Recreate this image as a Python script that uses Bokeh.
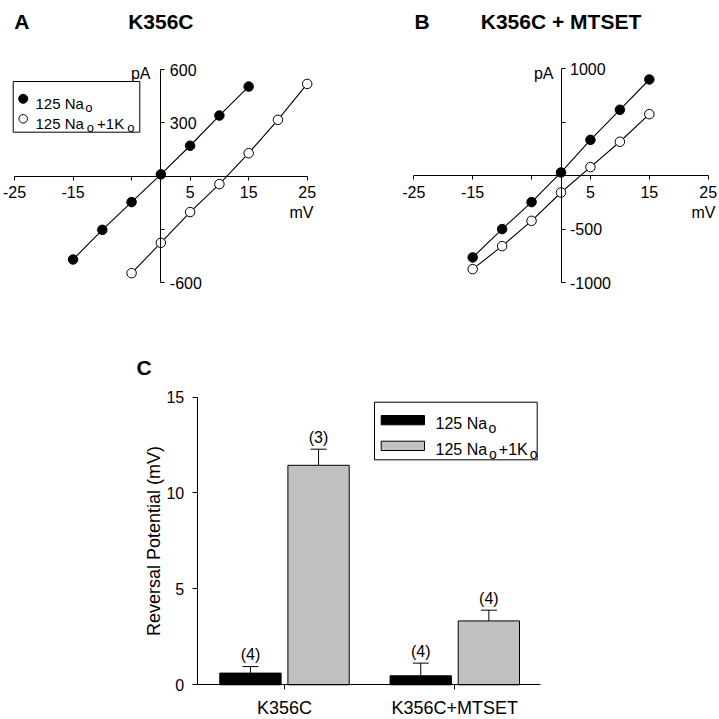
from bokeh.plotting import figure
from bokeh.models import Range1d, LinearAxis, FixedTicker, Whisker, TeeHead, ColumnDataSource
from bokeh.layouts import column, row
from bokeh.embed import file_html
from bokeh.resources import INLINE
from bokeh.core.properties import value

# ---------------- data ----------------
# Panel A : K356C I-V
volt_na_A = [-15, -10, -5, 0, 5, 10, 15]
curr_na_A = [-469, -302, -146, 10, 171, 341, 504]
volt_k_A = [-5, 0, 5, 10, 15, 20, 25]
curr_k_A = [-546, -375, -202, -45, 129, 317, 519]

# Panel B : K356C + MTSET I-V
volt_B = [-15, -10, -5, 0, 5, 10, 15]
curr_na_B = [-763, -498, -246, 31, 336, 617, 900]
curr_k_B = [-872, -657, -421, -156, 81, 318, 576]

x_ticks_iv = [-25, -15, -5, 5, 15, 25]
x_tick_labels_iv = ["-25", "-15", "", "5", "15", "25"]
y_ticks_A = [-600, -300, 300, 600]
y_tick_labels_A = ["-600", "", "300", "600"]
y_ticks_B = [-1000, -500, 500, 1000]
y_tick_labels_B = ["-1000", "-500", "", "1000"]

# Panel C : reversal potentials
categories = ["K356C", "K356C+MTSET"]
erev_na = [0.61, 0.47]
erev_na_err = [0.34, 0.66]
erev_nak = [11.44, 3.33]
erev_nak_err = [0.84, 0.56]
n_na = ["(4)", "(4)"]
n_nak = ["(3)", "(4)"]
y_ticks_C = [0, 5, 10, 15]

FONT = "Liberation Sans"
ARIAL_W = {'0': .556, '1': .556, '2': .556, '3': .556, '4': .556, '5': .556, '6': .556,
           ' ': .278, 'N': .722, 'a': .556, 'o': .556, '+': .584, 'K': .667}

ROW1_H = 310
PAGE_W = 718
PAGE_H = 718


def make_map(left, top, width, height, xv, xp, yv, yp):
    kx = (xv[1] - xv[0]) / (xp[1] - xp[0])
    ky = (yv[1] - yv[0]) / (yp[1] - yp[0])

    def fx(px):
        return xv[0] + (px - xp[0]) * kx

    def fy(py):
        return yv[0] + (py - yp[0]) * ky
    return fx, fy, Range1d(fx(left), fx(left + width)), Range1d(fy(top + height), fy(top))


def base_fig(w, h, xr, yr):
    p = figure(width=w, height=h, x_range=xr, y_range=yr, x_axis_type=None, y_axis_type=None,
               toolbar_location=None, output_backend="svg", min_border=0, title=None,
               outline_line_color=None, background_fill_color="white", border_fill_color="white")
    return p


def style_axis(ax, size="16px"):
    ax.axis_line_color = "black"
    ax.axis_line_width = 1
    ax.major_tick_line_color = "black"
    ax.major_tick_line_width = 1
    ax.minor_tick_in = 0
    ax.minor_tick_out = 0
    ax.major_tick_in = 0
    ax.major_label_text_font = FONT
    ax.major_label_text_font_size = size
    ax.major_label_text_color = "black"


def txt(p, x, y, s, size, align="center", baseline="alphabetic", bold=False, **kw):
    p.text(x=[x], y=[y], text=[s], text_font=value(FONT), text_font_size=size,
           text_align=align, text_baseline=baseline, text_color="black",
           text_font_style="bold" if bold else "normal", **kw)


def rich(p, fx, fy, x_px, base_px, pieces, gap=1.5):
    cur = x_px
    for s, size, dy in pieces:
        txt(p, fx(cur), fy(base_px + dy), s, f"{size}px", align="left")
        cur += sum(ARIAL_W.get(c, .556) for c in s) * size + gap


def iv_panel(left, width, xmap, ymap, y_ticks, y_labels, volt1, curr1, volt2, curr2,
             letter, letter_px, title, pa_px, mv_px, legend=False):
    fx, fy, xr, yr = make_map(left, 0, width, ROW1_H, *xmap, *ymap)
    p = base_fig(width, ROW1_H, xr, yr)

    xa = LinearAxis(fixed_location=0, bounds=(min(x_ticks_iv), max(x_ticks_iv)),
                    ticker=FixedTicker(ticks=x_ticks_iv, minor_ticks=[]),
                    major_label_overrides=dict(zip(x_ticks_iv, x_tick_labels_iv)))
    style_axis(xa)
    xa.major_tick_out = 4
    xa.major_label_standoff = 6
    p.add_layout(xa, "below")

    ya = LinearAxis(fixed_location=0, bounds=(min(y_ticks), max(y_ticks)),
                    ticker=FixedTicker(ticks=y_ticks, minor_ticks=[]),
                    major_label_overrides=dict(zip(y_ticks, y_labels)))
    style_axis(ya)
    ya.major_tick_out = 4
    ya.major_label_standoff = 5
    p.add_layout(ya, "right")

    p.line(volt1, curr1, line_color="black", line_width=1.1)
    p.line(volt2, curr2, line_color="black", line_width=1.1)
    p.scatter(volt1, curr1, size=9.5, fill_color="black", line_color="black")
    p.scatter(volt2, curr2, size=9.5, fill_color="white", line_color="black")

    txt(p, fx(letter_px), fy(20.7), letter, "21px", bold=True)
    txt(p, 0, fy(20.7), title, "21px", bold=True)
    txt(p, fx(pa_px), fy(72.5), "pA", "16px", align="right", baseline="middle")
    txt(p, fx(mv_px), fy(211.7), "mV", "16px", align="right", baseline="middle")

    if legend:
        p.quad(left=[fx(12.7)], right=[fx(139.3)], top=[fy(81)], bottom=[fy(131.7)],
               fill_color="white", line_color="black", line_width=1)
        p.scatter([fx(22.7)], [fy(98.3)], size=9, fill_color="black", line_color="black")
        p.scatter([fx(22.7)], [fy(118.3)], size=8.5, fill_color="white", line_color="black")
        rich(p, fx, fy, 35, 103.3, [("125 Na", 15, 0), ("o", 13, 4)])
        rich(p, fx, fy, 35, 123.3, [("125 Na", 15, 0), ("o", 13, 4), ("+1K", 15, 0), ("o", 13, 4)], gap=3)
    return p


pA = iv_panel(0, 360, ((-25, 25), (14, 306.7)), ((600, -600), (69, 282.3)),
              y_ticks_A, y_tick_labels_A, volt_na_A, curr_na_A, volt_k_A, curr_k_A,
              "A", 21.3, "K356C", 150, 313, legend=True)
pB = iv_panel(360, PAGE_W - 360, ((-25, 25), (413.3, 707.7)), ((1000, -1000), (68.3, 282.3)),
              y_ticks_B, y_tick_labels_B, volt_B, curr_na_B, volt_B, curr_k_B,
              "B", 421.7, "K356C + MTSET", 553, 715)

# ---------------- panel C ----------------
C_H = PAGE_H - ROW1_H
fx, fy, xr, yr = make_map(0, ROW1_H, PAGE_W, C_H, (1, 2), (284, 454.3), (0, 15), (684.3, 396.5))
pC = base_fig(PAGE_W, C_H, xr, yr)

pos = [i + 1 for i in range(len(categories))]
ya = LinearAxis(fixed_location=fx(196.7), bounds=(min(y_ticks_C), max(y_ticks_C)),
                ticker=FixedTicker(ticks=y_ticks_C, minor_ticks=[]),
                axis_label="Reversal Potential (mV)")
style_axis(ya)
ya.major_tick_out = 5
ya.major_label_standoff = 8
ya.axis_label_standoff = 0
ya.axis_label_text_font = FONT
ya.axis_label_text_font_size = "18px"
ya.axis_label_text_font_style = "normal"
ya.axis_label_text_color = "black"
pC.add_layout(ya, "left")

xa = LinearAxis(fixed_location=0, bounds=(fx(196.7), fx(540)),
                ticker=FixedTicker(ticks=pos, minor_ticks=[]),
                major_label_overrides=dict(zip(pos, categories)))
style_axis(xa, "18px")
xa.major_tick_out = 5
xa.major_label_standoff = 8
pC.add_layout(xa, "below")

off, bw = 0.2, 0.36
x_na = [x - off for x in pos]
x_nak = [x + off for x in pos]
pC.vbar(x=x_na, top=erev_na, width=bw, bottom=0, fill_color="black", line_color="black")
pC.vbar(x=x_nak, top=erev_nak, width=bw, bottom=0, fill_color="#c0c0c0", line_color="black")

for xs, tops, errs, ns in ((x_na, erev_na, erev_na_err, n_na), (x_nak, erev_nak, erev_nak_err, n_nak)):
    up = [t + e for t, e in zip(tops, errs)]
    src = ColumnDataSource(dict(x=xs, lower=tops, upper=up))
    pC.add_layout(Whisker(source=src, base="x", lower="lower", upper="upper", dimension="height",
                          line_color="black", line_width=1, lower_head=None,
                          upper_head=TeeHead(size=16, line_color="black", line_width=1)))
    pC.text(x=xs, y=up, text=ns, text_font=value(FONT), text_font_size="16px",
            text_align="center", text_baseline="middle", y_offset=-12, text_color="black")

txt(pC, fx(143.5), fy(367), "C", "21px", bold=True)

# legend C
pC.quad(left=[fx(374)], right=[fx(536.7)], top=[fy(401.7)], bottom=[fy(459.3)],
        fill_color="white", line_color="black", line_width=1)
pC.quad(left=[fx(380.7)], right=[fx(424)], top=[fy(415)], bottom=[fy(424.3)],
        fill_color="black", line_color="black")
pC.quad(left=[fx(380.7)], right=[fx(424)], top=[fy(440.7)], bottom=[fy(450)],
        fill_color="#c0c0c0", line_color="black")
rich(pC, fx, fy, 435, 423.3, [("125 Na", 16, 0), ("o", 14, 4)])
rich(pC, fx, fy, 435, 449.3, [("125 Na", 16, 0), ("o", 14, 4), ("+1K", 16, 0), ("o", 14, 4)], gap=2)

layout = column(row(pA, pB), pC)
open("out.html", "w").write(file_html(layout, INLINE))
